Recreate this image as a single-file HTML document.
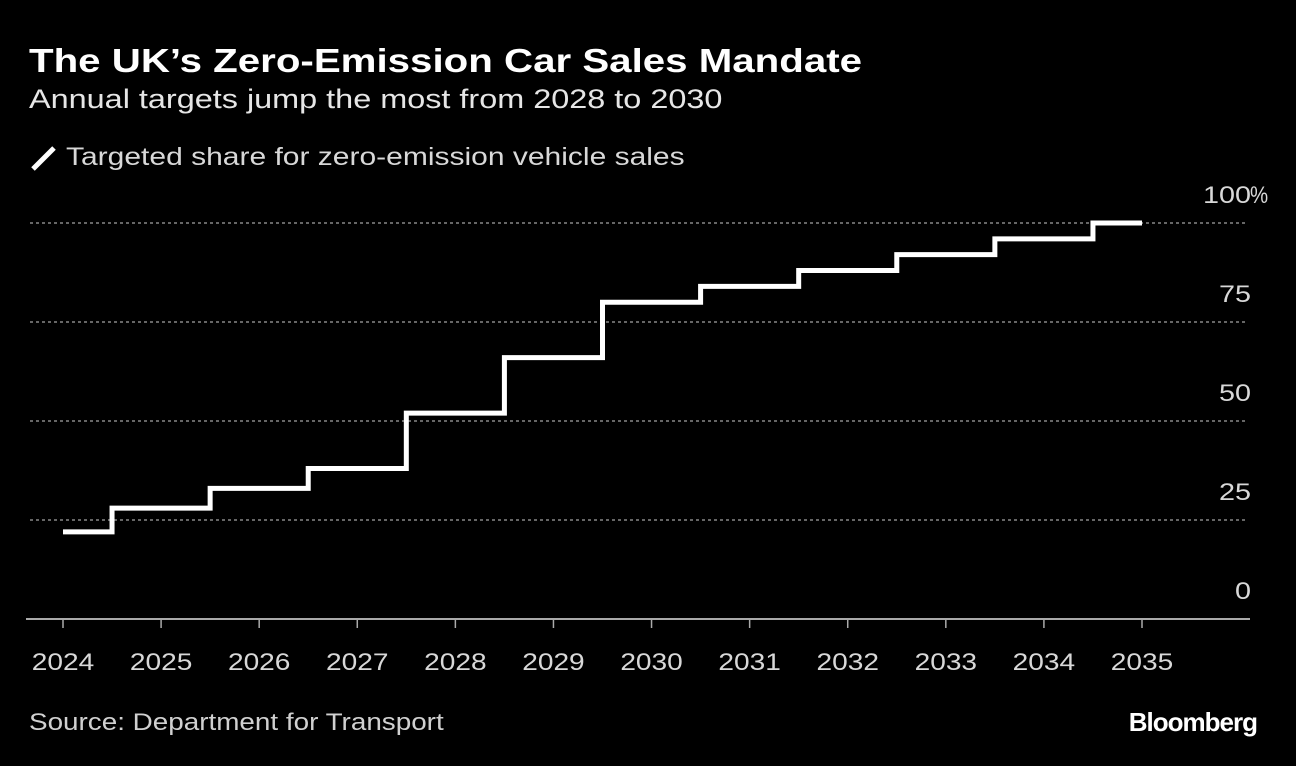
<!DOCTYPE html>
<html><head><meta charset="utf-8"><style>
body{margin:0;background:#000;width:1296px;height:766px;overflow:hidden;font-family:"Liberation Sans",sans-serif;color:#fff}
.t{position:absolute;white-space:nowrap}
.s{transform-origin:0 0}
</style></head><body>
<div class="t s" style="left:29px;top:42px;font-size:33px;font-weight:bold;transform:scaleX(1.22)">The UK’s Zero-Emission Car Sales Mandate</div>
<div class="t s" style="left:29px;top:84px;font-size:27px;color:#e6e6e6;transform:scaleX(1.2)">Annual targets jump the most from 2028 to 2030</div>
<div>
<svg class="t" style="left:30px;top:144px" width="28" height="28"><line x1="3" y1="25" x2="24" y2="4" stroke="#fff" stroke-width="5"/></svg>
<div class="t s" style="left:66px;top:143px;font-size:25px;color:#d8d8d8;transform:scaleX(1.2)">Targeted share for zero-emission vehicle sales</div>
</div>
<svg id="c" class="t" style="left:0;top:0" width="1296" height="766"></svg>
<div class="t s" style="left:29px;top:709px;font-size:24px;color:#d0d0d0;transform:scaleX(1.16)">Source: Department for Transport</div>
<div class="t" style="right:39px;top:707px;font-size:26px;font-weight:bold;letter-spacing:-1px">Bloomberg</div>
<script>
const years=[2024,2025,2026,2027,2028,2029,2030,2031,2032,2033,2034,2035];
const shares=[22,28,33,38,52,66,80,84,88,92,96,100];
const yTicks=[0,25,50,75,100];
const yTickLabels=["0","25","50","75","100%"];
const svg=document.getElementById('c');const NS='http://www.w3.org/2000/svg';
const x=i=>63+i*(1142-63)/(years.length-1);
const y=v=>619-v*3.96;
function mk(t,a){const e=document.createElementNS(NS,t);for(const k in a)e.setAttribute(k,a[k]);svg.appendChild(e);return e;}
yTicks.forEach((v,i)=>{
 if(v>0){const g=mk('line',{x1:30,x2:1248,y1:y(v),y2:y(v),stroke:'#888','stroke-width':1.5,'stroke-dasharray':'3,3'});
 
 }
 const lbl=yTickLabels[i];const hasPct=lbl.endsWith('%');
 const t=mk('text',{x:0,y:0,'text-anchor':'end','font-size':24,fill:'#d8d8d8',transform:'translate(1251,'+(y(v)-20)+') scale(1.2,1)'});t.textContent=hasPct?lbl.slice(0,-1):lbl;
 
 
 if(hasPct){const p=mk('text',{x:0,y:0,'font-size':24,fill:'#d8d8d8',transform:'translate(1250,'+(y(v)-20)+') scale(0.85,1)'});p.textContent='%';
 
 }
});
const ax=mk('line',{x1:26,x2:1250,y1:619,y2:619,stroke:'#aaa','stroke-width':2});


years.forEach((yr,i)=>{
 const tk=mk('line',{x1:x(i),x2:x(i),y1:619,y2:628,stroke:'#aaa','stroke-width':1.5});
 
 
 const t=mk('text',{x:0,y:0,'text-anchor':'middle','font-size':24,fill:'#d8d8d8',transform:'translate('+x(i)+',670) scale(1.17,1)'});t.textContent=yr;
 
 
});
let d='M'+x(0)+','+y(shares[0]);
for(let i=1;i<shares.length;i++){const mx=(x(i-1)+x(i))/2;d+=' H'+mx+' V'+y(shares[i]);}
d+=' H'+x(shares.length-1);
const p=mk('path',{d:d,fill:'none',stroke:'#fff','stroke-width':5,'stroke-linejoin':'miter'});


</script>
</body></html>
